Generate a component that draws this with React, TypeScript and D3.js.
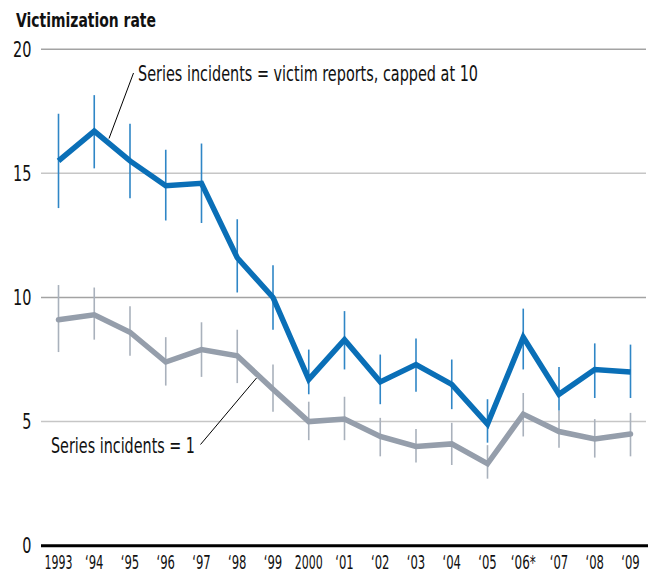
import React from "react";
import * as d3 from "d3";

const years = ["1993", "\u201894", "\u201895", "\u201896", "\u201897", "\u201898", "\u201899", "2000", "\u201801", "\u201802", "\u201803", "\u201804", "\u201805", "\u201806*", "\u201807", "\u201808", "\u201809"];

const cappedRate = [15.5, 16.7, 15.5, 14.5, 14.6, 11.6, 10.0, 6.7, 8.3, 6.6, 7.3, 6.5, 4.9, 8.4, 6.1, 7.1, 7.0];
const cappedLow = [13.6, 15.2, 14.0, 13.1, 13.0, 10.2, 8.7, 6.1, 7.1, 5.7, 6.2, 5.5, 4.15, 7.1, 5.45, 5.95, 5.95];
const cappedHigh = [17.4, 18.15, 17.0, 15.95, 16.2, 13.15, 11.3, 7.9, 9.45, 7.7, 8.35, 7.5, 5.9, 9.55, 7.2, 8.15, 8.1];

const oneRate = [9.1, 9.3, 8.6, 7.4, 7.9, 7.65, 6.3, 5.0, 5.1, 4.4, 4.0, 4.1, 3.3, 5.3, 4.6, 4.3, 4.5];
const oneLow = [7.8, 8.3, 7.65, 6.45, 6.8, 6.55, 5.4, 4.25, 4.25, 3.6, 3.35, 3.25, 2.7, 4.4, 3.95, 3.55, 3.6];
const oneHigh = [10.5, 10.4, 9.65, 8.4, 9.0, 8.7, 7.3, 5.8, 6.0, 5.15, 4.7, 4.95, 4.05, 6.15, 5.45, 5.1, 5.35];

const yTicks = [0, 5, 10, 15, 20];

const FONT = "'Liberation Sans Narrow', 'DejaVu Sans Condensed', 'Liberation Sans', sans-serif";
const BLUE = "#0a6fb7";
const BLUE_BAR = "#2f86c6";
const GRAY = "#959eab";
const GRAY_BAR = "#a9b1bc";

// approximate condensed-face advance widths, used to fit labels
const charW = (c: string) => (c === "\u2018" ? 4.5 : c === "*" ? 6.5 : 7.0);
const labelWidth = (s: string) => Array.from(s).reduce((a, c) => a + charW(c), 0);

export default function App() {
  const W = 648, H = 573;
  const x = d3.scalePoint<string>().domain(years).range([58.5, 630.5]);
  const y = d3.scaleLinear().domain([0, 20]).range([545.7, 49.2]);

  const line = d3
    .line<number>()
    .x((_, i) => x(years[i]) as number)
    .y((d) => y(d));

  const bars = (lo: number[], hi: number[], color: string, key: string) =>
    years.map((yr, i) => (
      <line
        key={key + i}
        x1={x(yr)}
        x2={x(yr)}
        y1={y(lo[i])}
        y2={y(hi[i])}
        stroke={color}
        strokeWidth={1.6}
      />
    ));

  return (
    <svg
      width={W}
      height={H}
      style={{ position: "absolute", left: 0, top: 0, display: "block", background: "#fff" }}
      fontFamily={FONT}
    >
      <text x={16} y={27} fontSize={20} fontWeight="bold" fill="#111" textLength={140} lengthAdjust="spacingAndGlyphs">
        Victimization rate
      </text>

      {yTicks.map((t) =>
        t === 0 ? null : (
          <line
            key={"g" + t}
            x1={41}
            x2={646}
            y1={y(t)}
            y2={y(t)}
            stroke={t % 10 === 0 ? "#a3a3a3" : "#c6c6c6"}
            strokeWidth={1.5}
          />
        )
      )}
      {yTicks.map((t) => (
        <text
          key={"t" + t}
          x={31.5}
          y={y(t)}
          dy="0.36em"
          textAnchor="end"
          fontSize={21}
          fill="#111"
          textLength={String(t).length * 9.2}
          lengthAdjust="spacingAndGlyphs"
        >
          {t}
        </text>
      ))}

      {bars(oneLow, oneHigh, GRAY_BAR, "gb")}
      <path d={line(oneRate) || ""} fill="none" stroke={GRAY} strokeWidth={5.5} strokeLinejoin="miter" strokeLinecap="round" />

      {bars(cappedLow, cappedHigh, BLUE_BAR, "bb")}
      <path d={line(cappedRate) || ""} fill="none" stroke={BLUE} strokeWidth={5.5} strokeLinejoin="miter" />

      <line x1={41} x2={648} y1={y(0)} y2={y(0)} stroke="#000" strokeWidth={3} />

      {years.map((yr) => (
        <text
          key={"x" + yr}
          x={x(yr)}
          y={569}
          textAnchor="middle"
          fontSize={19.5}
          fill="#111"
          textLength={labelWidth(yr)}
          lengthAdjust="spacingAndGlyphs"
        >
          {yr}
        </text>
      ))}

      <line x1={133.5} y1={73} x2={109} y2={138.5} stroke="#000" strokeWidth={1} />
      <text x={138} y={81} fontSize={21} fill="#111" textLength={340} lengthAdjust="spacingAndGlyphs">
        Series incidents = victim reports, capped at 10
      </text>

      <line x1={200.5} y1={444.5} x2={256.5} y2={378} stroke="#000" strokeWidth={1} />
      <text x={51} y={453} fontSize={21} fill="#111" textLength={144} lengthAdjust="spacingAndGlyphs">
        Series incidents = 1
      </text>
    </svg>
  );
}
